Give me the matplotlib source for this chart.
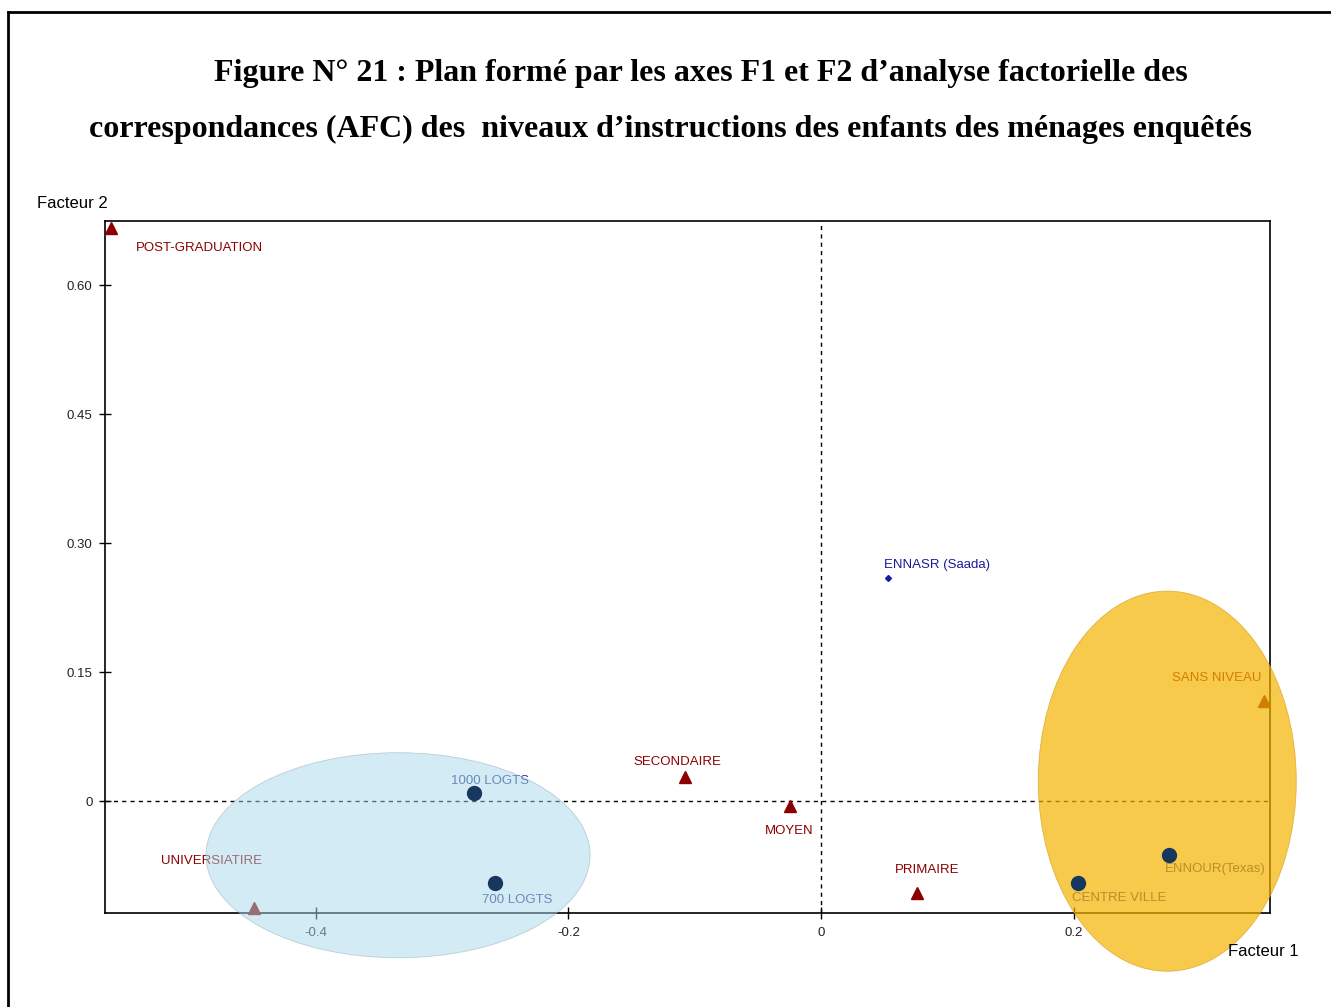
import matplotlib.pyplot as plt
from matplotlib.patches import Ellipse
from matplotlib.lines import Line2D

# Modalities (niveaux d'instruction) - triangles
niveaux = ["POST-GRADUATION", "UNIVERSIATIRE", "SECONDAIRE", "MOYEN", "PRIMAIRE", "SANS NIVEAU"]
niv_f1 = [-0.562, -0.449, -0.108, -0.025, 0.076, 0.350]
niv_f2 = [0.666, -0.124, 0.028, -0.005, -0.107, 0.116]

# Quartiers - circles
quartiers = ["1000 LOGTS", "700 LOGTS", "ENNOUR(Texas)", "CENTRE VILLE"]
quart_f1 = [-0.275, -0.258, 0.275, 0.203]
quart_f2 = [0.009, -0.095, -0.063, -0.095]

# small point
ennasr_f1 = [0.053]
ennasr_f2 = [0.260]

# label offsets in points (dx, dy, ha)
offsets = {
    "POST-GRADUATION": (18, -14, "left"),
    "UNIVERSIATIRE": (-30, 34, "center"),
    "SECONDAIRE": (-5, 11, "center"),
    "MOYEN": (0, -18, "center"),
    "PRIMAIRE": (7, 17, "center"),
    "SANS NIVEAU": (-2, 17, "right"),
    "1000 LOGTS": (12, 9, "center"),
    "700 LOGTS": (16, -12, "center"),
    "ENNOUR(Texas)": (-3, -10, "left"),
    "CENTRE VILLE": (-4, -11, "left"),
}

plt.rcParams["font.family"] = ["Liberation Sans", "DejaVu Sans"]
red = "#8b0000"
navy = "#17375e"

fig = plt.figure(figsize=(13.31, 10.07), dpi=100)
ax = fig.add_axes([0.0789, 0.0933, 0.8753, 0.6872])
ax.set_xlim(-0.5665, 0.355)
ax.set_ylim(-0.130, 0.6744)

ax.axhline(0, color="black", lw=1, ls=(0, (3, 3)), zorder=1)
ax.axvline(0, color="black", lw=1, ls=(0, (3, 3)), zorder=1)

ax.plot(niv_f1, niv_f2, "^", color=red, ms=8, ls="none", zorder=3, clip_on=False)
ax.plot(quart_f1, quart_f2, "o", color=navy, ms=10, ls="none", zorder=6, clip_on=False)
ax.plot(ennasr_f1, ennasr_f2, "D", color="#1a1a9a", ms=3, ls="none", zorder=3)

for name, x, y in zip(niveaux, niv_f1, niv_f2):
    dx, dy, ha = offsets[name]
    ax.annotate(name, (x, y), xytext=(dx, dy), textcoords="offset points",
                ha=ha, va="center", fontsize=9.5, color=red, zorder=3,
                annotation_clip=False)
for name, x, y in zip(quartiers, quart_f1, quart_f2):
    dx, dy, ha = offsets[name]
    ax.annotate(name, (x, y), xytext=(dx, dy), textcoords="offset points",
                ha=ha, va="center", fontsize=9.5, color="#2a3a8a", zorder=3,
                annotation_clip=False)
ax.annotate("ENNASR (Saada)", (ennasr_f1[0], ennasr_f2[0]), xytext=(-3, 9),
            textcoords="offset points", ha="left", va="center", fontsize=9.5,
            color="#1a1a9a")

# group ellipses
ax.add_patch(Ellipse((-0.3347, -0.0628), 0.3038, 0.2384, facecolor="#a9d8ea",
                     edgecolor="#8aa8b4", lw=0.6, alpha=0.5, zorder=4, clip_on=False))
ax.add_patch(Ellipse((0.2737, 0.0233), 0.2041, 0.4419, facecolor="#f4b400",
                     edgecolor="#d8a020", lw=0.6, alpha=0.7, zorder=4, clip_on=False))

ax.set_xticks([-0.4, -0.2, 0, 0.2])
ax.set_xticklabels(["-0.4", "-0.2", "0", "0.2"])
ax.set_yticks([0, 0.15, 0.30, 0.45, 0.60])
ax.set_yticklabels(["0", "0.15", "0.30", "0.45", "0.60"])
ax.tick_params(direction="inout", length=8, width=1, labelsize=9.5, colors="black",
               labelcolor="#222222", pad=5)
ax.tick_params(axis="x", pad=6)
for s in ax.spines.values():
    s.set_linewidth(1.2)
    s.set_zorder(2)

fig.text(37 / 1331, 1 - 203 / 1007, "Facteur 2", fontsize=12, ha="left", va="center")
fig.text(1228 / 1331, 1 - 951 / 1007, "Facteur 1", fontsize=12, ha="left", va="center")

# title
fig.text(701 / 1331, 1 - 73 / 1007,
         "Figure N° 21 : Plan formé par les axes F1 et F2 d’analyse factorielle des",
         fontsize=23, fontweight="bold", family="Liberation Serif", ha="center", va="center")
fig.text(670 / 1331, 1 - 129 / 1007,
         "correspondances (AFC) des  niveaux d’instructions des enfants des ménages enquêtés",
         fontsize=23, fontweight="bold", family="Liberation Serif", ha="center", va="center")

# page frame
fig.add_artist(Line2D([8 / 1331, 8 / 1331], [0, 1 - 12 / 1007], color="black", lw=2,
                      transform=fig.transFigure))
fig.add_artist(Line2D([8 / 1331, 1], [1 - 12 / 1007, 1 - 12 / 1007], color="black", lw=2,
                      transform=fig.transFigure))

fig.savefig("out.png", dpi=100)
